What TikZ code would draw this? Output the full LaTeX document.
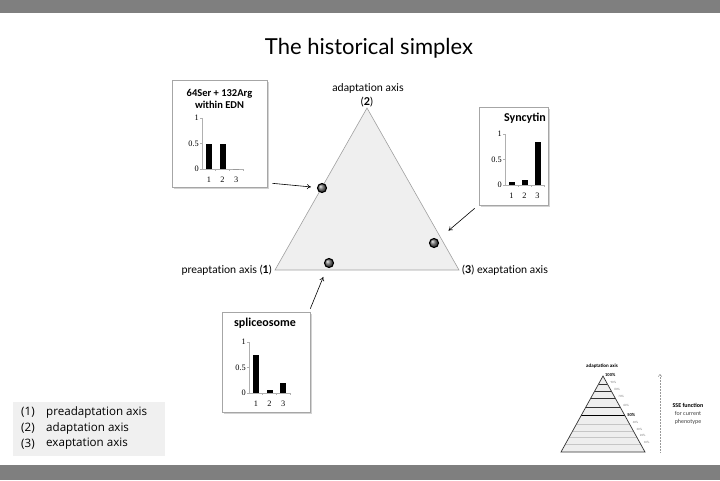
\documentclass[tikz,border=0pt]{standalone}
\usepackage{fontspec}
\setmainfont{Lato}[Ligatures=NoCommon]
\newfontfamily\carl{Carlito}
\newfontfamily\legfont{Open Sans}
\newfontfamily\numfont{Liberation Serif}
\usetikzlibrary{shadows,calc,arrows.meta}
\definecolor{band}{HTML}{7F7F7F}
\definecolor{trifill}{HTML}{EFEFEF}
\definecolor{triline}{HTML}{A0A0A0}
\definecolor{legfill}{HTML}{F0F0F0}
\definecolor{axgray}{HTML}{B0B0B0}
\definecolor{pyrfill}{HTML}{EEEEEE}
\newcommand\simplexchart[7]{%
  \draw[axisline] (#1,#3) -- (#1,#2) -- (#4,#2);
  \foreach \v/\t in {0/0,0.5/0.5,1/1}{
    \draw[axisline] ({#1-2},{#2+(#3-#2)*\v}) -- (#1,{#2+(#3-#2)*\v});
    \node[ticklab,anchor=east] at ({#1-3},{#2+(#3-#2)*\v}) {\t};
  }
  \foreach \k in {1,2,3}{
    \draw[axisline] ({#1+(#4-#1)*\k/3},#2) -- ({#1+(#4-#1)*\k/3},{#2+2});
    \node[ticklab] at ({#1+(#4-#1)*(\k-0.5)/3},{#2+11}) {\k};
  }
  \foreach \k/\h in {1/#5,2/#6,3/#7}{
    \fill[black] ({#1+(#4-#1)*(\k-0.5)/3-3},#2) rectangle ({#1+(#4-#1)*(\k-0.5)/3+3},{#2+(#3-#2)*\h});
  }
}
\begin{document}
\begin{tikzpicture}[x=1pt,y=-1pt,
  axlab/.style={font=\fontsize{10.8}{12}\selectfont, inner sep=0pt},
  dot/.style={circle, minimum size=9pt, inner sep=0pt, draw=black, line width=1.1pt, ball color=black!55},
  box/.style={draw=gray!70, fill=white, line width=0.6pt, drop shadow={opacity=0.35, shadow xshift=1.5pt, shadow yshift=-1.5pt}},
  boxtitle/.style={font=\carl\bfseries\fontsize{12}{13}\selectfont, align=center, inner sep=0pt},
  ticklab/.style={font=\numfont\fontsize{8.3}{9}\selectfont, inner sep=0pt},
  axisline/.style={draw=axgray, line width=0.6pt},
  arr/.style={-{To[length=4pt,width=5pt]}, line width=0.6pt, black},
  legtxt/.style={font=\legfont\fontsize{11.6}{13}\selectfont, inner sep=0pt, anchor=west},
  pct/.style={font=\carl\fontsize{3.2}{4}\selectfont, text=gray, inner sep=0pt, anchor=west},
  small/.style={font=\carl\fontsize{6}{7}\selectfont, inner sep=0pt}
]
\useasboundingbox (0,0) rectangle (720,480);
\fill[band] (0,0) rectangle (720,13);
\fill[band] (0,465) rectangle (720,480);
\node[font=\fontsize{22}{26}\selectfont, inner sep=0pt] (title) at (369,48) {The historical simplex};

% main triangle
\coordinate (A2) at (367,108);
\coordinate (A1) at (275,270);
\coordinate (A3) at (459,270);
\draw[fill=trifill, draw=triline, line width=0.6pt] (A1) -- (A2) -- (A3) -- cycle;
\node[axlab] (l2t) at (368,88) {adaptation axis};
\node[axlab] (l2) at (367,102) {(\textbf{2})};
\node[axlab, anchor=east] (l1) at (272,270) {preaptation axis (\textbf{1})};
\node[axlab, anchor=west] (l3) at (462,270) {(\textbf{3}) exaptation axis};

% dots
\node[dot] (d1) at (322,188) {};
\node[dot] (d2) at (434,243) {};
\node[dot] (d3) at (329,263) {};

% box 1
\node[box, minimum width=95pt, minimum height=107pt] (b1) at (219.5,133.5) {};
\node[boxtitle, font=\carl\bfseries\fontsize{10.5}{12.5}\selectfont] (t1) at (219.5,99) {64Ser + 132Arg\\within EDN};
\simplexchart{202}{169}{118}{243}{0.5}{0.5}{0}

% box 2
\node[box, minimum width=69pt, minimum height=98pt] (b2) at (513.5,156) {};
\node[boxtitle] (t2) at (525,118) {Syncytin};
\simplexchart{505}{185}{134}{544}{0.05}{0.1}{0.85}

% box 3
\node[box, minimum width=88pt, minimum height=100pt] (b3) at (266,362) {};
\node[boxtitle] (t3) at (265,323) {spliceosome};
\simplexchart{249}{393}{342}{290}{0.75}{0.05}{0.2}

% arrows
\draw[arr, shorten >=6pt] ([shift={(5,-4)}]b1.south east) -- (d1);
\draw[arr, shorten >=14pt] ([shift={(-4,3)}]b2.south west) -- (d2);
\draw[arr, shorten >=10pt] ([shift={(0,-3)}]b3.north east) -- (d3);

% legend
\node[fill=legfill, minimum width=152pt, minimum height=54pt, anchor=north west, inner sep=0pt] (leg) at (13,402) {};
\node[legtxt] (n1) at (21,412) {(1)};
\node[legtxt] (e1) at (46,412) {preadaptation axis};
\node[legtxt] (n2) at (21,428) {(2)};
\node[legtxt] (e2) at (46,428) {adaptation axis};
\node[legtxt] (n3) at (21,444) {(3)};
\node[legtxt] (e3) at (46,444) {exaptation axis};

% pyramid
\coordinate (P) at (603,376);
\coordinate (PL) at (561,452);
\coordinate (PR) at (645,452);
\fill[pyrfill] (P) -- (PL) -- (PR) -- cycle;
\foreach \t/\lab in {0.632/40\%,0.724/30\%,0.803/20\%,0.895/10\%}{
  \draw[gray!45, line width=0.8pt] ($(P)!\t!(PL)$) -- ($(P)!\t!(PR)$);
  \node[pct] at ($($(P)!\t!(PR)$)+(3,-2)$) {\lab};
}
\foreach \t/\lab in {0.105/90\%,0.197/80\%,0.29/70\%,0.408/60\%}{
  \draw[black!80, line width=0.7pt] ($(P)!\t!(PL)$) -- ($(P)!\t!(PR)$);
  \node[pct] at ($($(P)!\t!(PR)$)+(3,-2)$) {\lab};
}
\draw[black, line width=1pt] ($(P)!0.526!(PL)$) -- ($(P)!0.526!(PR)$);
\node[pct, text=black, font=\carl\bfseries\fontsize{4.5}{5}\selectfont] (p50) at ($($(P)!0.526!(PR)$)+(2,-1)$) {50\%};
\node[pct, text=black, font=\carl\bfseries\fontsize{4.5}{5}\selectfont] (p100) at ($(P)+(2,-1)$) {100\%};
\draw[black!80, line width=0.7pt] (P) -- (PL) -- (PR) -- cycle;
\node[small, font=\carl\bfseries\fontsize{5}{6}\selectfont] (pyrt) at (602,366) {adaptation axis};

% SSE arrow
\coordinate (s0) at (660,452);
\coordinate (s1) at (660,374);
\draw[gray!80, densely dotted, line width=0.5pt, -{To[length=3pt,width=4pt]}] (s0) -- (s1);
\node[small, font=\carl\bfseries\fontsize{6}{7}\selectfont] (sse) at (688,405) {SSE function};
\node[small, text=black!75] (fc) at (688,413.5) {for current};
\node[small, text=black!75] (ph) at (688,422) {phenotype};
\end{tikzpicture}
\end{document}
